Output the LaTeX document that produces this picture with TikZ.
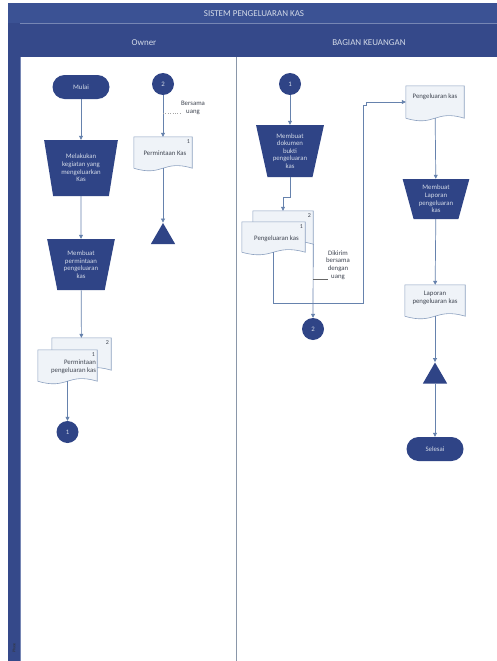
\documentclass[tikz,border=0pt]{standalone}
\usepackage{fontspec}
\setmainfont{Carlito}
\usetikzlibrary{shapes.geometric,shapes.misc,arrows.meta,calc}
\definecolor{hdr}{HTML}{3B5294}
\definecolor{hdrb}{HTML}{35498A}
\definecolor{shp}{HTML}{2F4486}
\definecolor{lnk}{HTML}{6682AD}
\definecolor{docfill}{HTML}{EFF3F8}
\definecolor{docdraw}{HTML}{8DA1C0}
\definecolor{lightxt}{HTML}{D3DAE8}
\definecolor{divid}{HTML}{8A97A9}
\definecolor{doctxt}{HTML}{404652}
\newcommand{\drawdoc}[1]{%
  \filldraw[docsty] (#1.north west) -- (#1.north east) -- (#1.south east)
    .. controls ($(#1.south)+(0,-9)$) and ($(#1.south)+(0,9)$) .. (#1.south west) -- cycle;}
\begin{document}
\begin{tikzpicture}[x=1pt,y=-1pt,
  font=\fontsize{6.8}{7.6}\selectfont,
  term/.style={rectangle, rounded corners=12pt, fill=shp, minimum width=57pt, minimum height=24pt, text=lightxt, inner sep=0pt},
  proc/.style={trapezium, trapezium stretches=true, shape border rotate=180, fill=shp, text=lightxt, align=center, inner sep=0pt},
  conn/.style={circle, fill=shp, minimum size=22pt, inner sep=0pt, text=lightxt},
  archive/.style={regular polygon, regular polygon sides=3, fill=shp, inner sep=0pt, minimum size=28pt},
  docbox/.style n args={2}{rectangle, inner sep=0pt, minimum width=#1, minimum height=#2},
  docsty/.style={fill=docfill, draw=docdraw, line width=0.6pt},
  doctext/.style={text=doctxt, align=center, inner sep=0pt},
  numlbl/.style={text=doctxt, inner sep=0pt, anchor=north east, font=\fontsize{6}{6.5}\selectfont},
  flow/.style={draw=lnk, line width=0.7pt, -{Triangle[length=4pt,width=4pt]}},
  plain/.style={draw=lnk, line width=0.7pt},
  annot/.style={text=doctxt, align=center, inner sep=0pt}
]
\useasboundingbox (0,0) rectangle (497,661);
\fill[white] (0,0) rectangle (497,661);
% pool frame
\fill[hdr] (8,3) rectangle (497,23);
\fill[hdrb] (8,23) rectangle (20,661);
\fill[hdrb] (20,23) rectangle (497,57);
\draw[hdr!70!white, line width=0.4pt] (20,23) -- (497,23);
\draw[hdr!70!white, line width=0.4pt] (20,57) -- (20,661);
\draw[divid, line width=0.8pt] (236,57) -- (236,661);
\node[text=lightxt, font=\fontsize{9}{10}\selectfont] (title) at (254,13.5) {SISTEM PENGELUARAN KAS};
\node[text=lightxt, font=\fontsize{9}{10}\selectfont] (lane1) at (144,43) {Owner};
\node[text=lightxt, font=\fontsize{9}{10}\selectfont] (lane2) at (369,43) {BAGIAN KEUANGAN};
\node[text=black!80, rotate=90, font=\fontsize{4}{4}\selectfont] (phase) at (14,648) {Phase};

% ---------- Owner lane ----------
\node[term] (mulai) at (81,87) {Mulai};
\node[proc, minimum width=74pt, minimum height=56pt, trapezium angle=77] (t1) at (81,168)
  {Melakukan\\kegiatan yang\\mengeluarkan\\Kas};
\node[proc, minimum width=68pt, minimum height=51pt, trapezium angle=75] (t2) at (81,264.5)
  {Membuat\\permintaan\\pengeluaran\\kas};
\node[docbox={59pt}{32pt}] (pb2) at (81.5,354) {};
\drawdoc{pb2}
\node[numlbl] (pb2n) at ($(pb2.north east)+(-2,3)$) {2};
\node[docbox={59pt}{31pt}] (pb1) at (67.5,365.5) {};
\drawdoc{pb1}
\node[numlbl] (pb1n) at ($(pb1.north east)+(-2,3)$) {1};
\node[doctext, align=right, anchor=east] (pb1t) at ($(pb1.east)+(-1,1.5)$) {Permintaan\\pengeluaran kas};
\node[conn] (c1l) at (67.5,432) {1};

\node[conn] (c2l) at (163,84) {2};
\node[docbox={58pt}{31pt}] (pk) at (163,152.5) {};
\drawdoc{pk}
\node[numlbl] (pkn) at ($(pk.north east)+(-2,3)$) {1};
\node[doctext] (pkt) at ($(pk)+(2,0.5)$) {Permintaan Kas};
\node[archive] (arl) at (163,237) {};
\node[annot] (bers) at (193,108) {Bersama\\uang};
\coordinate (bersa) at (163,113);
\coordinate (bersb) at (180,113);

\draw[flow] (mulai) -- (t1);
\draw[flow] (t1) -- (t2);
\draw[flow] (t2) -- (pb2);
\draw[flow] (pb1) -- (c1l);
\draw[flow] (c2l) -- (pk);
\draw[flow] (pk) -- (arl);
\draw[gray!70, line width=0.4pt, dotted] (bersa) -- (bersb);

% ---------- Bagian Keuangan lane ----------
\node[conn] (c1r) at (290,84) {1};
\node[proc, minimum width=68pt, minimum height=52pt, trapezium angle=76] (t3) at (290,151)
  {Membuat\\dokumen\\bukti\\pengeluaran\\kas};
\node[docbox={60pt}{33pt}] (kb2) at (283,227.5) {};
\drawdoc{kb2}
\node[numlbl] (kb2n) at ($(kb2.north east)+(-2,3)$) {2};
\node[docbox={63pt}{30pt}] (kb1) at (273.5,237) {};
\drawdoc{kb1}
\node[numlbl] (kb1n) at ($(kb1.north east)+(-2,3)$) {1};
\node[doctext] (kb1t) at ($(kb1)+(3,2)$) {Pengeluaran kas};
\node[conn] (c2r) at (313,329) {2};
\node[annot] (dik) at (338,265) {Dikirim\\bersama\\dengan\\uang};
\coordinate (dika) at (313,279);
\coordinate (dikb) at (328,279);

\node[docbox={58pt}{32pt}] (pkr) at (435,102) {};
\drawdoc{pkr}
\node[doctext] (pkrt) at ($(pkr)+(0,-5)$) {Pengeluaran kas};
\node[proc, minimum width=67pt, minimum height=40pt, trapezium angle=73] (t4) at (436,199)
  {Membuat\\Laporan\\pengeluaran\\kas};
\node[docbox={60pt}{31pt}] (lap) at (435,300.5) {};
\drawdoc{lap}
\node[doctext] (lapt) at ($(lap)+(0,-2.5)$) {Laporan\\pengeluaran kas};
\node[archive] (arr) at (435,376.5) {};
\node[term] (selesai) at (435,449) {Selesai};

\coordinate (j1) at (290,197);
\coordinate (j2) at (283,197);
\draw[flow] (c1r) -- (t3);
\draw[flow] (t3) -- (j1) -- (j2) -- (kb2);
\coordinate (l1) at (273.5,303);
\coordinate (l2) at (363,303);
\coordinate (l3) at (363,105);
\coordinate (l4) at (366,105);
\coordinate (l5) at (366,102);
\draw[flow] (kb1) -- (l1) -- (l2) -- (l3) -- (l4) -- (l5) -- (pkr);
\draw[flow] (kb2.south east) -- (c2r);
\draw[black!60, line width=0.6pt] (dika) -- (dikb);
\draw[flow] (pkr) -- (t4);
\draw[flow] (t4) -- (lap);
\draw[flow] (lap) -- (arr);
\draw[flow] (arr) -- (selesai);
\end{tikzpicture}
\end{document}
